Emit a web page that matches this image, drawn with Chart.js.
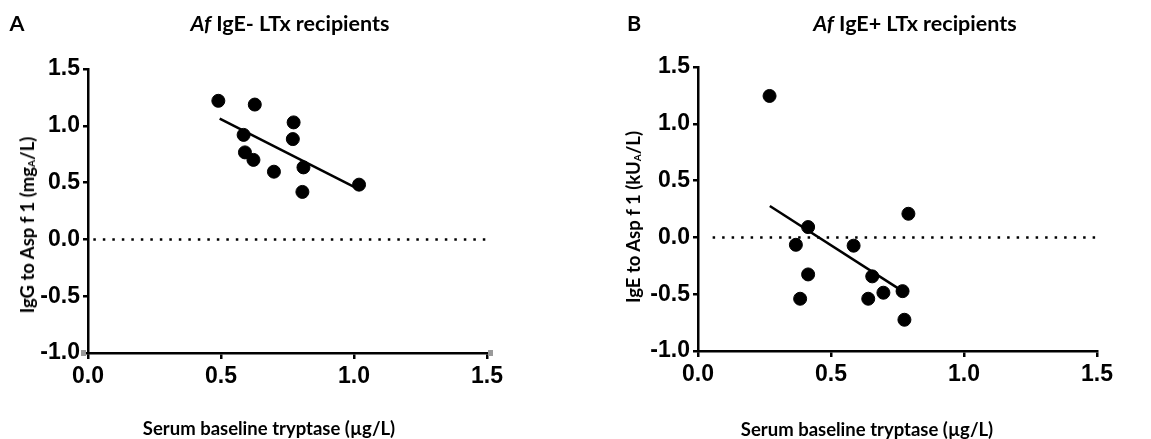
<!DOCTYPE html>
<html>
<head>
<meta charset="utf-8">
<script src="https://cdn.jsdelivr.net/npm/chart.js@4.4.0/dist/chart.umd.min.js"></script>
<style>
    body { margin: 0; background: #fff; width: 1151px; height: 439px; overflow: hidden; position: relative; font-family: 'Lato', 'Open Sans', sans-serif; }
    .panel { position: absolute; top: 0; height: 439px; }
    .lbl { position: absolute; transform: translate(-50%, -50%); white-space: nowrap; font-weight: 700; color: #000; }
    .ttl { font-size: 21.5px; }
    .axt { font-size: 18.5px; }
    .ytl { transform: translate(-50%, -50%) rotate(-90deg); }
    sub { font-size: 10px; vertical-align: -1px; }
</style>
</head>
<body>
<div class="panel" style="left:0;width:575px"><canvas id="chartA"></canvas></div>
<div class="panel" style="left:575px;width:576px"><canvas id="chartB"></canvas></div>

<div class="lbl ttl" style="left:17px;top:23px">A</div>
<div class="lbl ttl" style="left:290px;top:23px"><i>Af</i> IgE- LTx recipients</div>
<div class="lbl axt ytl" style="left:27px;top:225px">IgG to Asp f 1 (mg<sub>A</sub>/L)</div>
<div class="lbl axt" style="left:269px;top:428px">Serum baseline tryptase (µg/L)</div>

<div class="lbl ttl" style="left:634px;top:23px">B</div>
<div class="lbl ttl" style="left:915px;top:23px"><i>Af</i> IgE+ LTx recipients</div>
<div class="lbl axt ytl" style="left:633px;top:217px">IgE to Asp f 1 (kU<sub>A</sub>/L)</div>
<div class="lbl axt" style="left:867px;top:429px">Serum baseline tryptase (µg/L)</div>

<script>
// Panel A - IgE negative recipients
const tryptaseA = [0.49, 0.627, 0.773, 0.77, 0.585, 0.59, 0.622, 0.699, 0.81, 0.806, 1.019];
const iggA = [1.22, 1.187, 1.03, 0.883, 0.92, 0.766, 0.70, 0.596, 0.634, 0.418, 0.482];
const fitAx = [0.495, 1.015];
const fitAy = [1.064, 0.445];

// Panel B - IgE positive recipients
const tryptaseB = [0.269, 0.791, 0.414, 0.368, 0.585, 0.414, 0.384, 0.655, 0.640, 0.697, 0.769, 0.776];
const igeB = [1.245, 0.208, 0.091, -0.065, -0.073, -0.326, -0.54, -0.343, -0.54, -0.487, -0.473, -0.725];
const fitBx = [0.27, 0.76];
const fitBy = [0.276, -0.46];

const xTicks = [0, 0.5, 1.0, 1.5];
const yTicks = [-1.0, -0.5, 0, 0.5, 1.0, 1.5];

function pts(xs, ys) {
    return xs.map((x, i) => ({ x: x, y: ys[i] }));
}

// grey end caps seen on panel A axes
const capPlugin = {
    id: 'caps',
    afterDraw(chart, args, opts) {
        if (!opts.show) return;
        const c = chart.ctx;
        const xs = chart.scales.x, ys = chart.scales.y;
        c.save();
        c.fillStyle = '#9a9a9a';
        c.fillRect(xs.getPixelForValue(0) - 7, ys.getPixelForValue(-1) - 3, 5, 6);
        c.fillRect(xs.getPixelForValue(1.5) + 1, ys.getPixelForValue(-1) - 3, 5, 6);
        c.restore();
    }
};

function makeChart(id, xs, ys, fx, fy, zeroStart, box, caps) {
    const tickFont = { family: "'Liberation Sans', Arial, sans-serif", size: 23, weight: 'bold' };
    new Chart(document.getElementById(id), {
        type: 'scatter',
        data: {
            datasets: [
                {
                    data: pts([zeroStart, 1.5], [0, 0]),
                    showLine: true,
                    borderColor: '#000',
                    borderWidth: 2.5,
                    borderDash: [2.5, 7],
                    pointRadius: 0
                },
                {
                    data: pts(fx, fy),
                    showLine: true,
                    borderColor: '#000',
                    borderWidth: 2.5,
                    pointRadius: 0
                },
                {
                    data: pts(xs, ys),
                    backgroundColor: '#000',
                    borderColor: '#000',
                    pointRadius: 6.5,
                    pointHoverRadius: 6.5
                }
            ]
        },
        options: {
            responsive: false,
            animation: false,
            events: [],
            layout: { padding: { left: 0, top: box.top, right: box.right, bottom: 0 } },
            plugins: {
                legend: { display: false },
                tooltip: { enabled: false },
                caps: { show: caps }
            },
            scales: {
                x: {
                    type: 'linear',
                    min: 0,
                    max: 1.5,
                    afterBuildTicks: s => { s.ticks = xTicks.map(v => ({ value: v })); },
                    afterFit: s => { s.height = box.xh; },
                    border: { display: true, color: '#000', width: 2.5 },
                    grid: { display: true, drawOnChartArea: false, color: '#000', lineWidth: 2.5, tickLength: 6 },
                    ticks: { color: '#000', font: tickFont, padding: 4, maxRotation: 0, callback: v => v.toFixed(1) }
                },
                y: {
                    type: 'linear',
                    min: -1,
                    max: 1.5,
                    afterBuildTicks: s => { s.ticks = yTicks.map(v => ({ value: v })); },
                    afterFit: s => { s.width = box.yw; },
                    border: { display: true, color: '#000', width: 2.5 },
                    grid: { display: true, drawOnChartArea: false, color: '#000', lineWidth: 2.5, tickLength: 5 },
                    ticks: { color: '#000', font: tickFont, padding: 3, callback: v => v.toFixed(1) }
                }
            }
        },
        plugins: [capPlugin]
    });
}

document.getElementById('chartA').width = 575;
document.getElementById('chartA').height = 439;
document.getElementById('chartB').width = 576;
document.getElementById('chartB').height = 439;

makeChart('chartA', tryptaseA, iggA, fitAx, fitAy, 0.02, { top: 69, right: 88, xh: 86, yw: 88 }, true);
makeChart('chartB', tryptaseB, igeB, fitBx, fitBy, 0.055, { top: 67, right: 54, xh: 88, yw: 123 }, false);
</script>
</body>
</html>
